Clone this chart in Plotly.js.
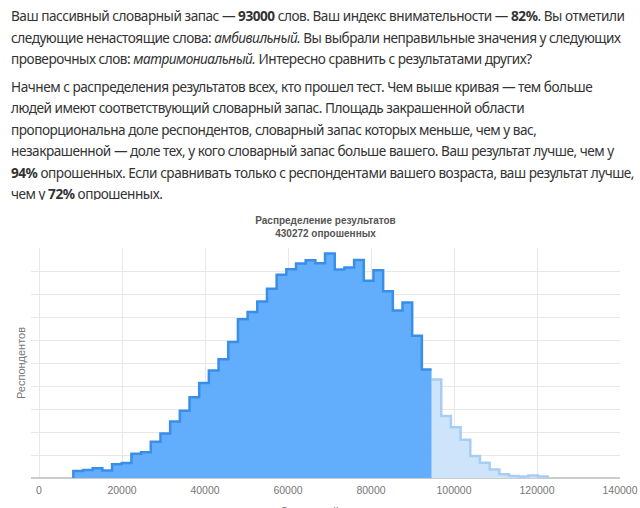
<!DOCTYPE html>
<html>
<head>
<meta charset="utf-8">
<script src="https://cdn.plot.ly/plotly-3.0.1.min.js"></script>
<style>
  html, body { margin:0; padding:0; width:640px; height:508px; overflow:hidden; background:#fff; }
  #text { position:absolute; left:11px; top:5px; font-family:'Noto Sans', sans-serif; font-size:13.6px; color:#333; line-height:21.5px; white-space:nowrap; letter-spacing:-0.47px; }
  #text p { margin:0; }
  #text p + p { margin-top:6px; }
  #chart { position:absolute; left:0; top:200px; width:640px; height:330px; }
</style>
</head>
<body>
<div id="text">
<p>Ваш пассивный словарный запас — <b>93000</b> слов. Ваш индекс внимательности — <b>82%</b>. Вы отметили<br>следующие ненастоящие слова: <i>амбивильный.</i> Вы выбрали неправильные значения у следующих<br>проверочных слов: <i>матримониальный.</i> Интересно сравнить с результатами других?</p>
<p>Начнем с распределения результатов всех, кто прошел тест. Чем выше кривая — тем больше<br>людей имеют соответствующий словарный запас. Площадь закрашенной области<br>пропорциональна доле респондентов, словарный запас которых меньше, чем у вас,<br>незакрашенной — доле тех, у кого словарный запас больше вашего. Ваш результат лучше, чем у<br><b>94%</b> опрошенных. Если сравнивать только с респондентами вашего возраста, ваш результат лучше,<br>чем у <b>72%</b> опрошенных.</p>
</div>
<div id="chart"></div>
<script>
// Histogram of vocabulary size (words) vs. number of respondents
const binStart = 8270;     // left edge of first bin (words)
const binWidth = 2333;     // bin width (words)
const cutBins = 37;        // bins up to the user's result (shaded)
const counts = [
  600, 700, 840, 660, 1200, 1300, 2100, 2240, 3160, 3880,
  4920, 5840, 7020, 8260, 9340, 10320, 11820, 13800, 14440, 15340,
  16460, 17680, 18160, 18660, 18940, 18680, 19520, 18140, 18300, 18960,
  17160, 18060, 16240, 14560, 15260, 12360, 9440,
  8560, 5400, 4420, 3320, 1920, 1320, 740, 320, 180, 140, 220, 120
];
const xTicks = [0, 20000, 40000, 60000, 80000, 100000, 120000, 140000];
const chartTitle = 'Распределение результатов';
const chartSubtitle = '430272 опрошенных';
const xTitle = 'Словарный запас';
const yTitle = 'Респондентов';

const edge = i => binStart + i * binWidth;

// shaded part (below user's result)
const xd = [edge(0)], yd = [0];
for (let i = 0; i < cutBins; i++) { xd.push(edge(i)); yd.push(counts[i]); }
xd.push(edge(cutBins)); yd.push(counts[cutBins - 1]);

// unshaded part (above user's result)
const xl = [], yl = [];
for (let i = cutBins; i < counts.length; i++) { xl.push(edge(i)); yl.push(counts[i]); }
xl.push(edge(counts.length)); yl.push(0);

const traces = [
  { x: xl, y: yl, type: 'scatter', mode: 'lines', line: { shape: 'hv', color: 'rgb(166,205,244)', width: 2.5 },
    fill: 'tozeroy', fillcolor: 'rgb(205,228,251)', hoverinfo: 'skip' },
  { x: xd, y: yd, type: 'scatter', mode: 'lines', line: { shape: 'hv', color: 'rgb(58,142,232)', width: 2.5 },
    fill: 'tozeroy', fillcolor: 'rgb(99,174,252)', hoverinfo: 'skip' }
];

const gridC = '#e8e8e8';
const layout = {
  width: 640, height: 330,
  margin: { l: 31, r: 20, t: 48, b: 52 },
  paper_bgcolor: '#fff', plot_bgcolor: '#fff',
  showlegend: false,
  title: {
    text: '<b>' + chartTitle + '</b><br><b>' + chartSubtitle + '</b>',
    font: { family: 'Arial, Liberation Sans', size: 10, color: '#555' },
    x: 0.5, xref: 'paper', xanchor: 'center',
    y: 0.928, yref: 'container', yanchor: 'top'
  },
  xaxis: {
    range: [-1930, 140000], tickvals: xTicks, ticktext: xTicks.map(String),
    showgrid: true, gridcolor: gridC, gridwidth: 1, zeroline: false, showline: false,
    ticks: '', ticklabelstandoff: 4,
    tickfont: { family: 'Arial, Liberation Sans', size: 10.5, color: '#777' },
    title: { text: xTitle, font: { family: 'Arial, Liberation Sans', size: 11, color: '#777' }, standoff: 12 },
    fixedrange: true
  },
  yaxis: {
    range: [0, 20000], dtick: 2000, showticklabels: false,
    showgrid: true, gridcolor: gridC, gridwidth: 1,
    zeroline: true, zerolinecolor: '#cccccc', zerolinewidth: 2, showline: false, ticks: '',
    title: { text: yTitle, font: { family: 'Arial, Liberation Sans', size: 11, color: '#777' }, standoff: 2 },
    fixedrange: true
  }
};

Plotly.newPlot('chart', traces, layout, { displayModeBar: false, staticPlot: true });
</script>
</body>
</html>
